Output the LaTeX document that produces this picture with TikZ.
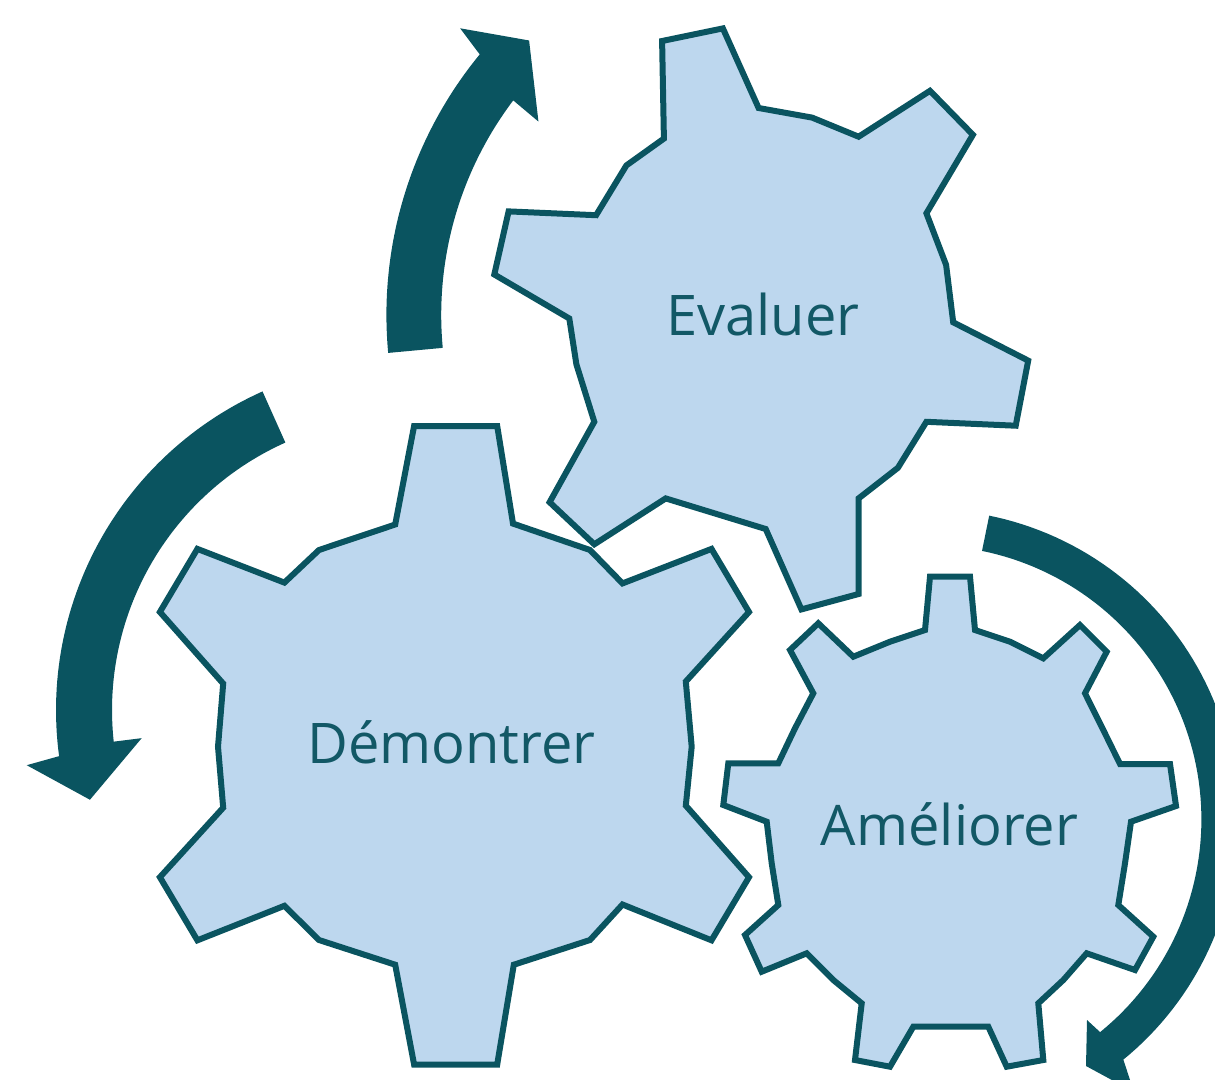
\documentclass[tikz,border=0pt]{standalone}
\usepackage{fontspec}
\setmainfont{Open Sans}
\definecolor{tealdark}{RGB}{10,84,96}
\definecolor{tealtext}{RGB}{18,88,102}
\definecolor{gearfill}{RGB}{189,215,238}
\begin{document}
\begin{tikzpicture}[x=1pt,y=-1pt,
  gear/.style={draw=tealdark, fill=gearfill, line width=6pt, line join=miter},
  band/.style={fill=tealdark, draw=none},
  gearlabel/.style={text=tealtext, font=\fontsize{56}{60}\selectfont, inner sep=0pt, anchor=base}]
\useasboundingbox (0,0) rectangle (1215,1079);
\clip (0,0) rectangle (1215,1079);

% Gear: Demontrer
\draw[gear] (414.1,426) -- (497.2,426) -- (513,523.6) -- (590,550) -- (622.5,583.4)
  -- (711.5,548.9) -- (749,612) -- (685.8,681.5) -- (691.7,746.7) -- (685.8,805.6)
  -- (749,877.2) -- (711.5,940.3) -- (622.5,904.5) -- (590,940) -- (513.8,964.7)
  -- (497.2,1064.5) -- (414.1,1064.5) -- (395.2,964.7) -- (319,940) -- (284.4,905.8)
  -- (197.4,940.3) -- (159.9,877.2) -- (223.2,807.7) -- (218,746.7) -- (223.2,683.6)
  -- (159.9,612) -- (197.4,548.9) -- (284.4,582.6) -- (319,550) -- (395.2,524.5) -- cycle;

% Gear: Evaluer
\draw[gear] (662.1,41) -- (722.9,28.4) -- (758.6,108) -- (812.1,117.6) -- (858.6,136.7)
  -- (930,90.8) -- (972.9,134.8) -- (926.4,213.3) -- (946.1,264.9) -- (953.2,322.3)
  -- (1028.2,360.6) -- (1015.7,425.7) -- (926.4,421.8) -- (897.9,467.8) -- (858.6,498.4)
  -- (858.6,594) -- (801.4,609.4) -- (765.7,529) -- (715.7,513.7) -- (665.7,498.4)
  -- (594.3,544.3) -- (549.6,502.2) -- (594.3,421.8) -- (576.4,364.4) -- (569.3,318.5)
  -- (494.3,274.5) -- (508.6,211.4) -- (596.1,215.2) -- (626.4,165.4) -- (663.9,138.6) -- cycle;

% Gear: Ameliorer
\draw[gear] (930,576.7) -- (970,576.7) -- (975,630) -- (1010,641.7) -- (1043.3,658.3)
  -- (1080,625) -- (1106.7,651.7) -- (1085,693.3) -- (1103.3,730) -- (1120,764)
  -- (1170,764) -- (1176,806) -- (1131,821.7) -- (1125,863.3) -- (1118.3,905)
  -- (1153.3,936.7) -- (1135,970) -- (1086.7,953.3) -- (1063.3,980) -- (1038.3,1003.3)
  -- (1043.3,1060) -- (1006.7,1066.7) -- (988.3,1026.7) -- (950,1026.7) -- (913.3,1026.7)
  -- (890,1066.7) -- (855,1060) -- (861.7,1003.3) -- (833.3,980) -- (806.7,953.3)
  -- (761.7,971.7) -- (745,935) -- (778.3,905) -- (771.7,863.3) -- (766.7,821.7)
  -- (723.3,805) -- (728.3,763.3) -- (778.3,763.3) -- (795,728.3) -- (813.3,693.3)
  -- (790,650) -- (818.3,623.3) -- (853.3,656.7) -- (890,641.7) -- (925,630) -- cycle;

% Labels
\node[gearlabel] (dem) at (451.5,763.5) {Démontrer};
\node[gearlabel] (eva) at (762.7,335.7) {Evaluer};
\node[gearlabel] (ame) at (949.5,845) {Améliorer};

% Arrow A (top, clockwise, pointing up-right)
\fill[band] plot[domain=185.3:140.6, samples=50] ({797+410.6*cos(\x)}, {315-410.6*sin(\x)})
  -- ({797+442.4*cos(139.6)}, {315-442.4*sin(139.6)})
  -- ({797+383.6*cos(134.3)}, {315-383.6*sin(134.3)})
  -- ({797+322.9*cos(143.2)}, {315-322.9*sin(143.2)})
  -- plot[domain=142.9:185.3, samples=50] ({797+355.8*cos(\x)}, {315-355.8*sin(\x)})
  -- cycle;

% Arrow B (left, counter-clockwise, pointing down)
\fill[band] plot[domain=114.1:187.6, samples=60] ({405+349*cos(\x)}, {710-349*sin(\x)})
  -- ({405+382.3*cos(188.3)}, {710-382.3*sin(188.3)})
  -- ({405+327.6*cos(195.9)}, {710-327.6*sin(195.9)})
  -- ({405+264.8*cos(186.1)}, {710-264.8*sin(186.1)})
  -- plot[domain=186.2:114.1, samples=60] ({405+293*cos(\x)}, {710-293*sin(\x)})
  -- cycle;

% Arrow C (right, clockwise, pointing down-left)
\fill[band] plot[domain=78.5:-50.8, samples=80] ({927.4+310*cos(\x)}, {819.4-310*sin(\x)})
  -- (1134,1092) -- (1086,1066) -- (1087,1020) -- (1100,1032)
  -- plot[domain=-50.9:78.5, samples=80] ({927.4+274*cos(\x)}, {819.4-274*sin(\x)})
  -- cycle;
\end{tikzpicture}
\end{document}
